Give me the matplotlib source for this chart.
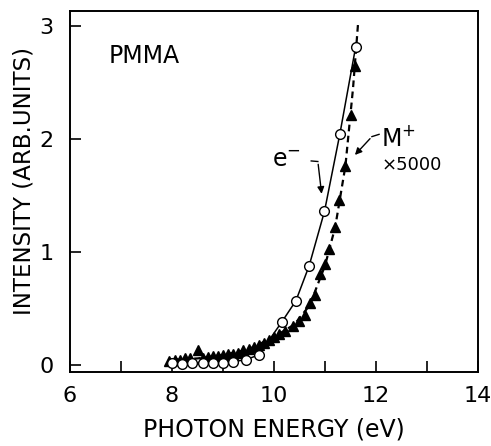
import matplotlib
matplotlib.use("Agg")
import matplotlib.pyplot as plt
from matplotlib.ticker import MultipleLocator

# e- yield (open circles)
e_x = [8.0, 8.2, 8.4, 8.6, 8.8, 9.0, 9.2, 9.45, 9.7, 10.15, 10.43, 10.69, 10.99, 11.29, 11.6]
e_y = [0.02, 0.01, 0.02, 0.02, 0.02, 0.02, 0.03, 0.05, 0.09, 0.38, 0.57, 0.88, 1.36, 2.04, 2.81]

# M+ yield x5000 (filled triangles)
m_x = [7.95, 8.05, 8.15, 8.25, 8.35, 8.5, 8.6, 8.7, 8.8, 8.9, 9.0, 9.1, 9.2, 9.3, 9.4,
       9.5, 9.6, 9.7, 9.8, 9.9, 10.0, 10.1, 10.22, 10.38, 10.5, 10.61, 10.71, 10.8,
       10.9, 11.0, 11.08, 11.2, 11.28, 11.4, 11.51, 11.59]
m_y = [0.04, 0.05, 0.05, 0.06, 0.06, 0.13, 0.06, 0.07, 0.08, 0.08, 0.09, 0.1, 0.1, 0.11,
       0.13, 0.14, 0.16, 0.18, 0.2, 0.22, 0.25, 0.28, 0.3, 0.35, 0.39, 0.44, 0.55, 0.62,
       0.81, 0.89, 1.03, 1.22, 1.46, 1.76, 2.21, 2.64]

# dashed guide curve for M+
m_line_x = [8.0, 8.5, 9.0, 9.5, 10.0, 10.4, 10.7, 11.0, 11.2, 11.4, 11.55, 11.65]
m_line_y = [0.05, 0.06, 0.09, 0.14, 0.25, 0.36, 0.53, 0.88, 1.22, 1.76, 2.45, 3.03]

plt.rcParams['font.family'] = ['DejaVu Sans']

fig = plt.figure(figsize=(4.91, 4.46), dpi=100)
ax = fig.add_axes([70/491, 1-372/446, 408/491, 361/446])

ax.plot(e_x, e_y, '-', color='black', lw=1.1)
ax.plot(e_x, e_y, 'o', mfc='white', mec='black', mew=1.0, ms=7, zorder=4)
ax.plot(m_line_x, m_line_y, color='black', lw=1.6, ls=(0, (3, 2)))
ax.plot(m_x, m_y, '^', color='black', ms=7.5, zorder=3)

ax.set_xlim(6, 14)
ax.set_ylim(-0.06, 3.13)
ax.xaxis.set_major_locator(MultipleLocator(2))
ax.xaxis.set_minor_locator(MultipleLocator(1))
ax.yaxis.set_major_locator(MultipleLocator(1))
ax.tick_params(which='both', direction='in', labelsize=16, width=1.2)
ax.tick_params(which='major', length=8)
ax.tick_params(which='minor', length=8)
ax.tick_params(axis='x', pad=10)
ax.tick_params(axis='y', pad=12)
for s in ax.spines.values():
    s.set_linewidth(1.4)

ax.set_xlabel('PHOTON ENERGY (eV)', fontsize=17, labelpad=8)
ax.set_ylabel('INTENSITY (ARB.UNITS)', fontsize=16.5)
ax.yaxis.set_label_coords(-0.085, 0.53)

ax.text(6.75, 2.73, 'PMMA', fontsize=17, va='center', ha='left')

ax.text(10.24, 1.81, r'e$^{-}$', fontsize=17, va='center', ha='center')
ax.annotate('', xy=(10.94, 1.49), xytext=(10.86, 1.80),
            arrowprops=dict(arrowstyle='-|>', color='black', lw=1.0, mutation_scale=10))
ax.plot([10.73, 10.86], [1.805, 1.80], color='black', lw=1.0)

ax.text(12.1, 2.0, r'M$^{+}$', fontsize=17, va='center', ha='left')
ax.text(12.1, 1.77, '×5000', fontsize=13, va='center', ha='left')
ax.annotate('', xy=(11.55, 1.84), xytext=(11.92, 2.02),
            arrowprops=dict(arrowstyle='-|>', color='black', lw=1.0, mutation_scale=10))
ax.plot([11.92, 12.06], [2.02, 2.04], color='black', lw=1.0)

fig.savefig('out.png', dpi=100)
